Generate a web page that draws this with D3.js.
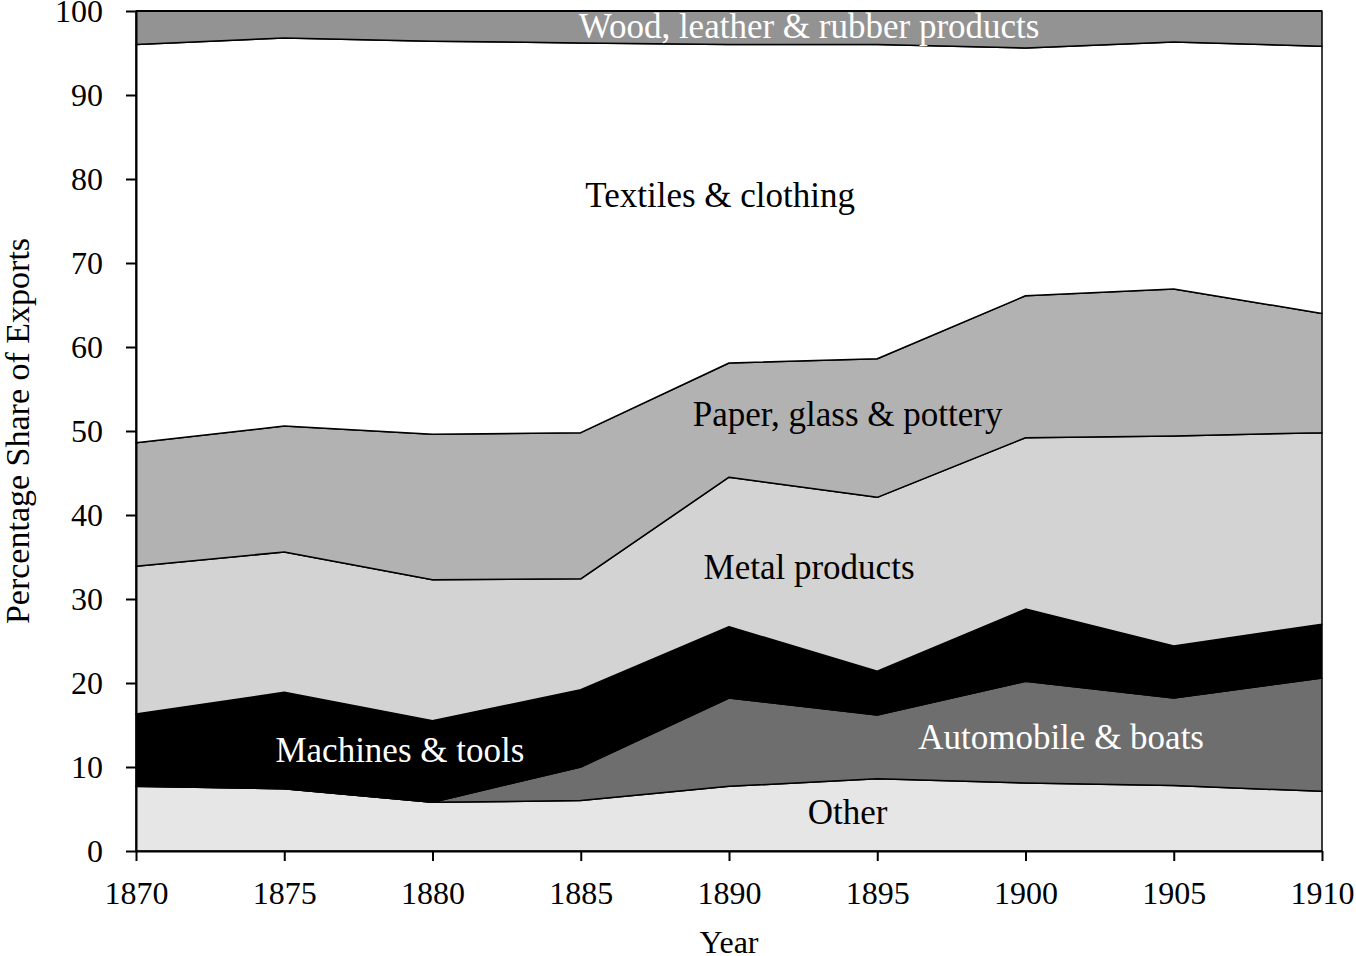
<!DOCTYPE html>
<html>
<head>
<meta charset="utf-8">
<script src="https://cdn.jsdelivr.net/npm/d3@7"></script>
<style>
  body { margin: 0; background: #fff; }
  svg text { font-family: "Liberation Serif", "Times New Roman", serif; }
</style>
</head>
<body>
<svg id="chart" width="1356" height="956"></svg>
<script>
// years on the x axis
const years = [1870, 1875, 1880, 1885, 1890, 1895, 1900, 1905, 1910]

// percentage share of exports per category (bottom to top of the stack)
const other = [7.7, 7.4, 5.8, 6.0, 7.7, 8.6, 8.1, 7.8, 7.1]
const automobile = [0, 0, 0, 4.0, 10.5, 7.6, 12.1, 10.4, 13.5]
const machines = [8.6, 11.5, 9.7, 9.2, 8.5, 5.2, 8.6, 6.2, 6.4]
const metal = [17.6, 16.7, 16.8, 13.2, 17.8, 20.7, 20.4, 25.0, 22.8]
const paper = [14.7, 15.0, 17.3, 17.4, 13.6, 16.5, 16.9, 17.5, 14.2]
const textiles = [47.4, 46.2, 46.8, 46.4, 37.9, 37.4, 29.5, 29.4, 31.8]
const wood = [4.0, 3.2, 3.6, 3.8, 4.0, 4.0, 4.4, 3.7, 4.2]

const keys = ['other', 'automobile', 'machines', 'metal', 'paper', 'textiles', 'wood']
const series = { other, automobile, machines, metal, paper, textiles, wood }
const fills = {
  other: '#e6e6e6', automobile: '#6e6e6e', machines: '#000000', metal: '#d3d3d3',
  paper: '#b2b2b2', textiles: '#ffffff', wood: '#939393'
}

// labels placed in data space (year, percent)
const labels = [
  { text: 'Wood, leather & rubber products', year: 1892.7, value: 98.1, color: '#fff' },
  { text: 'Textiles & clothing', year: 1889.7, value: 78.0, color: '#000' },
  { text: 'Paper, glass & pottery', year: 1894.0, value: 52.0, color: '#000' },
  { text: 'Metal products', year: 1892.7, value: 33.8, color: '#000' },
  { text: 'Machines & tools', year: 1878.9, value: 12.0, color: '#fff' },
  { text: 'Automobile & boats', year: 1901.2, value: 13.5, color: '#fff' },
  { text: 'Other', year: 1894.0, value: 4.6, color: '#000' }
]

const yTicks = [0, 10, 20, 30, 40, 50, 60, 70, 80, 90, 100]

const margin = { top: 11, right: 34, bottom: 105, left: 136 }
const width = 1356, height = 956

const svg = d3.select('#chart')

const x = d3.scaleLinear().domain([1870, 1910]).range([margin.left, width - margin.right])
const y = d3.scaleLinear().domain([0, 100]).range([height - margin.bottom, margin.top])

const table = years.map((yr, i) => {
  const row = { year: yr }
  keys.forEach(k => { row[k] = series[k][i] })
  return row
})

const stacked = d3.stack().keys(keys)(table)

const area = d3.area()
  .x(d => x(d.data.year))
  .y0(d => y(d[0]))
  .y1(d => y(Math.min(d[1], 100)))

svg.append('g')
  .selectAll('path')
  .data(stacked)
  .join('path')
  .attr('d', area)
  .attr('fill', d => fills[d.key])
  .attr('stroke', '#000')
  .attr('stroke-width', 1.5)
  .attr('stroke-linejoin', 'round')

// axes
const xAxis = d3.axisBottom(x).tickValues(years).tickFormat(d3.format('d')).tickSize(10).tickSizeOuter(0)
const yAxis = d3.axisLeft(y).tickValues(yTicks).tickSize(10).tickSizeOuter(0)

const gx = svg.append('g')
  .attr('transform', `translate(0,${y(0)})`)
  .call(xAxis)
gx.selectAll('text').attr('font-size', 32).attr('y', 30).attr('dy', '0.71em').attr('fill', '#000')
gx.selectAll('line').attr('stroke', '#000').attr('stroke-width', 2)
gx.select('.domain').attr('stroke', '#000').attr('stroke-width', 2)

const gy = svg.append('g')
  .attr('transform', `translate(${x(1870)},0)`)
  .call(yAxis)
gy.selectAll('text').attr('font-size', 32).attr('x', -33).attr('fill', '#000')
gy.selectAll('line').attr('stroke', '#000').attr('stroke-width', 2)
gy.select('.domain').attr('stroke', '#000').attr('stroke-width', 2)

// top frame line at 100
svg.append('line')
  .attr('x1', x(1870)).attr('x2', x(1910))
  .attr('y1', y(100)).attr('y2', y(100))
  .attr('stroke', '#000').attr('stroke-width', 2)

// category labels
svg.append('g')
  .selectAll('text')
  .data(labels)
  .join('text')
  .attr('x', d => x(d.year))
  .attr('y', d => y(d.value))
  .attr('text-anchor', 'middle')
  .attr('dominant-baseline', 'central')
  .attr('font-size', 35)
  .attr('fill', d => d.color)
  .text(d => d.text)

// axis titles
svg.append('text')
  .attr('x', x(1890))
  .attr('y', 953)
  .attr('text-anchor', 'middle')
  .attr('font-size', 32)
  .text('Year')

svg.append('text')
  .attr('transform', `translate(17,${y(50)}) rotate(-90)`)
  .attr('text-anchor', 'middle')
  .attr('dominant-baseline', 'central')
  .attr('font-size', 34)
  .text('Percentage Share of Exports')
</script>
</body>
</html>
